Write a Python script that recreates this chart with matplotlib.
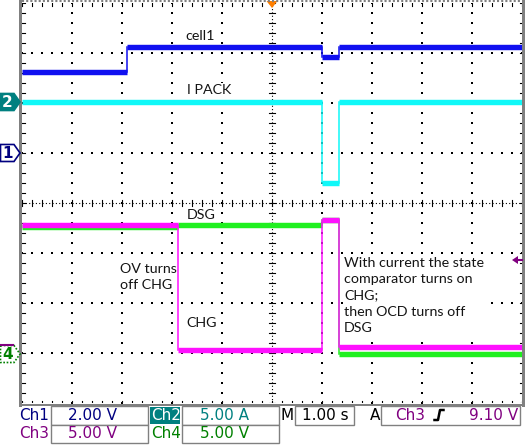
import numpy as np
import matplotlib
matplotlib.use("Agg")
import matplotlib.pyplot as plt
from matplotlib.patches import Polygon, Rectangle

W, H = 527, 445

# time axis, 1 s/div, trigger at the centre
t_start, t_end = -5.0, 5.0

# Ch1 - cell1 voltage (2 V/div)
ch1_edges = [-2.9, 0.99, 1.33]
ch1_volts = [3.26, 4.24, 3.84, 4.24]
# Ch2 - I PACK current (5 A/div)
ch2_edges = [0.99, 1.33]
ch2_amps = [0.0, -8.1, 0.0]
# Ch3 - CHG gate (5 V/div)
ch3_edges = [-1.89, 0.99, 1.33]
ch3_volts = [12.6, 0.1, 13.1, 0.4]
# Ch4 - DSG gate (5 V/div)
ch4_edges = [-1.89, 0.99, 1.33]
ch4_volts = [12.7, 12.9, 13.4, 0.0]

trig_level = 9.10  # Ch3

# scale (units/div) and ground marker position (div)
scales = {"ch1": 2.0, "ch2": 5.0, "ch3": 5.0, "ch4": 5.0}
grounds = {"ch1": 1.0, "ch2": 2.02, "ch3": -2.96, "ch4": -3.02}

c_blue = "#1010f0"
c_cyan = "#10f8f8"
c_mag = "#ff10ff"
c_green = "#20f020"

fig = plt.figure(figsize=(W / 100, H / 100), dpi=100)
ax = fig.add_axes([22 / W, 42 / H, 500 / W, 400 / H])
ax.set_xlim(t_start, t_end)
ax.set_ylim(-4, 4)
ax.axis("off")

# grid made of dots
dot_kw = dict(marker="s", s=1.6, color="black", linewidths=0, zorder=1)
steps = np.arange(-5, 5.001, 0.2)
vsteps = np.arange(-4, 4.001, 0.2)
for gy in range(-3, 4):
    if gy != 0:
        ax.scatter(steps, np.full(len(steps), gy), **dot_kw)
for gx in range(-4, 5):
    if gx != 0:
        ax.scatter(np.full(len(vsteps), gx), vsteps, **dot_kw)

# centre cross with ticks
ax.plot([0, 0], [-4, 4], color="black", lw=0.8, ls=(0, (1, 2)), zorder=1)
ax.plot([-5, 5], [0, 0], color="black", lw=0.8, ls=(0, (1, 2)), zorder=1)
for v in vsteps:
    ax.plot([-0.06, 0.06], [v, v], color="black", lw=0.8, zorder=1)
for v in steps:
    ax.plot([v, v], [-0.06, 0.06], color="black", lw=0.8, zorder=1)
# border ticks
for v in vsteps:
    ax.plot([-5, -4.95], [v, v], color="black", lw=0.8, zorder=1)
    ax.plot([4.95, 5], [v, v], color="black", lw=0.8, zorder=1)
for v in steps:
    ax.plot([v, v], [3.95, 4], color="black", lw=0.8, zorder=1)
    ax.plot([v, v], [-4, -3.95], color="black", lw=0.8, zorder=1)


def draw_trace(edges, values, key, color, z):
    ts = [t_start] + edges + [t_end]
    ys = [grounds[key] + v / scales[key] for v in values]
    for i, e in enumerate(edges):
        ax.plot([e, e], [ys[i], ys[i + 1]], color=color, lw=1.1, zorder=z)
    for i in range(len(ys)):
        ax.plot([ts[i], ts[i + 1]], [ys[i], ys[i]], color=color, lw=3.9,
                solid_capstyle="butt", zorder=z)


draw_trace(ch1_edges, ch1_volts, "ch1", c_blue, 3)
draw_trace(ch2_edges, ch2_amps, "ch2", c_cyan, 3)
draw_trace(ch4_edges, ch4_volts, "ch4", c_green, 4)
draw_trace(ch3_edges, ch3_volts, "ch3", c_mag, 5)

# labels on the traces (white boxes hide the grid dots behind them)
tfont = dict(family="Lato", fontsize=10.3, color="#141414", zorder=2,
             bbox=dict(facecolor="white", edgecolor="none", pad=0.5))
ax.text(-1.44, 3.34, "cell1", ha="center", va="center", **tfont)
ax.text(-1.7, 2.27, "I PACK", ha="left", va="center", **tfont)
ax.text(-1.7, -0.24, "DSG", ha="left", va="center", **tfont)
ax.text(-1.72, -2.4, "CHG", ha="left", va="center", **tfont)
ax.text(-3.04, -1.48, "OV turns\noff CHG", ha="left", va="center",
        linespacing=1.42, **tfont)
ax.text(1.44, -1.85, "With current the state\ncomparator turns on\nCHG;\nthen OCD turns off\nDSG",
        ha="left", va="center", linespacing=1.42, **tfont)

# overlay in pixel coordinates for the scope frame and readout
ov = fig.add_axes([0, 0, 1, 1])
ov.set_xlim(0, W)
ov.set_ylim(H, 0)
ov.axis("off")
ov.patch.set_alpha(0)

gray = "#808080"
ov.add_patch(Rectangle((19, 0), 3, 407, color=gray, lw=0))
ov.add_patch(Rectangle((522, 0), 3, 407, color=gray, lw=0))
ov.add_patch(Rectangle((19, 403.5), 506, 2.5, color=gray, lw=0))
ov.plot([22, 522], [1, 1], color=gray, lw=1.5, ls=(0, (1, 1)))

# trigger position and level markers
ov.add_patch(Polygon([(266.5, 1), (277.5, 1), (272, 8)], color="#ff7f00", lw=0))
trig_y = 203 - 50 * (grounds["ch3"] + trig_level / scales["ch3"])
ov.plot([516, 522], [trig_y, trig_y], color="#800080", lw=1.5)
ov.add_patch(Polygon([(512, trig_y), (518, trig_y - 4), (518, trig_y + 4)],
                     color="#800080", lw=0))


# channel ground markers on the left
def ground_marker(key, face, edge, txt_color, label, ls="-"):
    y = 203 - 50 * grounds[key]
    pts = [(0.5, y - 8.5), (14, y - 8.5), (20, y), (14, y + 8.5), (0.5, y + 8.5)]
    ov.add_patch(Polygon(pts, facecolor=face, edgecolor=edge, lw=1.2, ls=ls))
    ov.text(7.5, y + 0.5, label, ha="center", va="center", color=txt_color,
            fontsize=11, fontweight="bold", family="DejaVu Sans")


ground_marker("ch2", "#008080", "#008080", "white", "2")
ground_marker("ch1", "white", "#000080", "#000080", "1")
y4 = 203 - 50 * grounds["ch4"]
ov.plot([1, 13], [y4 - 9, y4 - 9], color="#800080", lw=1.5)
ground_marker("ch4", "white", "#008000", "#008000", "4", ls=(0, (1, 1)))

# readout boxes
for x0, x1, y0, y1 in [(51, 148, 406, 425), (182, 279, 406, 425),
                       (295, 354, 406, 425), (381, 520, 406, 425),
                       (51, 148, 425, 443), (182, 279, 425, 443)]:
    ov.add_patch(Rectangle((x0, y0), x1 - x0, y1 - y0, facecolor="white",
                           edgecolor=gray, lw=1))
ov.add_patch(Rectangle((150, 407), 30, 17, color="#008080", lw=0))

rfont = dict(family="DejaVu Sans", fontsize=11, va="center")
ov.text(19, 415, "Ch1", color="#000080", ha="left", **rfont)
ov.text(93, 415, "2.00 V", color="#000080", ha="center", **rfont)
ov.text(151, 415, "Ch2", color="white", ha="left", **rfont)
ov.text(225, 415, "5.00 A", color="#008080", ha="center", **rfont)
ov.text(281, 415, "M", color="black", ha="left", **rfont)
ov.text(325, 415, "1.00 s", color="black", ha="center", **rfont)
ov.text(370, 415, "A", color="black", ha="left", **rfont)
ov.text(395, 415, "Ch3", color="#800080", ha="left", **rfont)
ov.plot([434.5, 438, 440, 443.5], [420, 420, 410, 410], color="black", lw=1.8)
ov.text(518, 415, "9.10 V", color="#800080", ha="right", **rfont)
ov.text(19, 433.5, "Ch3", color="#800080", ha="left", **rfont)
ov.text(93, 433.5, "5.00 V", color="#800080", ha="center", **rfont)
ov.text(151, 433.5, "Ch4", color="#008000", ha="left", **rfont)
ov.text(225, 433.5, "5.00 V", color="#008000", ha="center", **rfont)

fig.savefig("out.png", dpi=100)
